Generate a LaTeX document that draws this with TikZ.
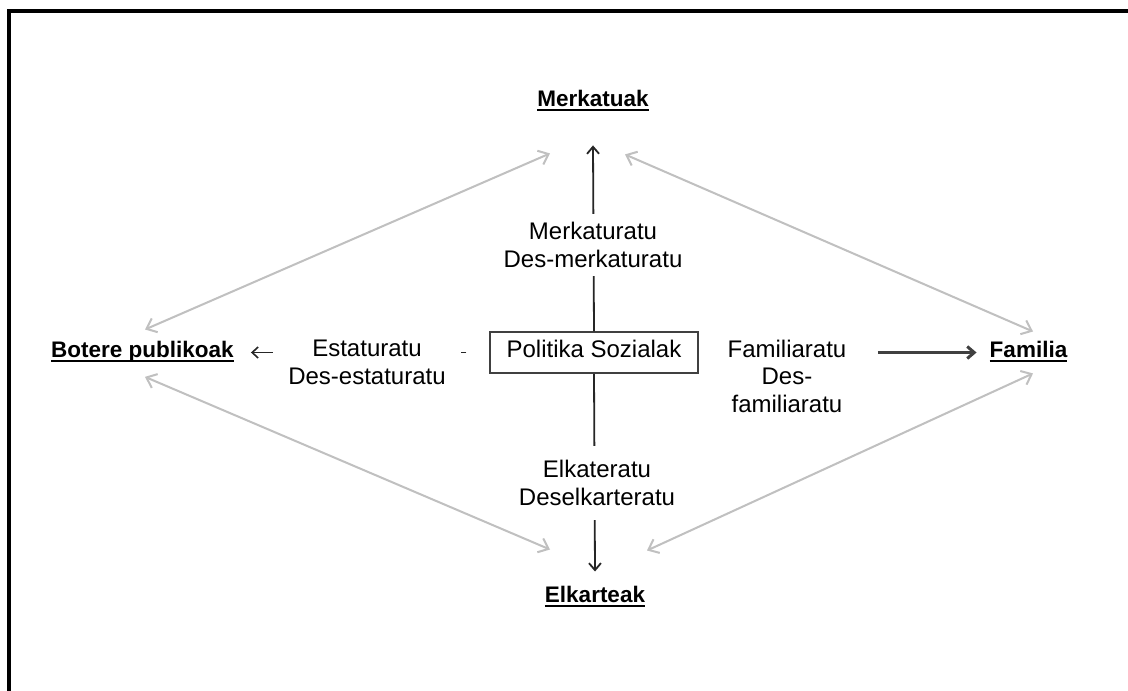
\documentclass[tikz,border=0pt]{standalone}
\usepackage{fontspec}
\setmainfont{Liberation Sans}
\usetikzlibrary{arrows.meta}
\definecolor{lg}{HTML}{C0C0C0}
\definecolor{dk}{HTML}{262626}
\definecolor{dk2}{HTML}{404040}
\begin{document}
\begin{tikzpicture}[x=1pt,y=-1pt,
  lbl/.style={font=\fontsize{22.5}{27}\selectfont\bfseries, inner sep=0pt, anchor=base},
  txt/.style={font=\fontsize{24}{27.5}\selectfont, align=center, fill=white, inner sep=0pt},
  gr/.style={draw=lg, line width=2pt, {Straight Barb[length=9pt,width=15pt]}-{Straight Barb[length=9pt,width=15pt]}},
  bk/.style={draw=dk, line width=1.8pt, -{Straight Barb[length=7pt,width=12pt]}},
  ul/.style={line width=2.5pt, draw=black},
  boxst/.style={draw=dk2, line width=1.5pt, minimum width=208pt, minimum height=41pt,
    inner sep=0pt, text height=17pt, text depth=6.5pt, font=\fontsize{24}{27.5}\selectfont}]
\useasboundingbox (0,0) rectangle (1128,691);
\fill[white] (0,0) rectangle (1128,691);
\draw[line width=4pt] (1128,11) -- (8.5,11) -- (8.5,691);
% end nodes
\node[lbl] (merk) at (593,106) {Merkatuak};
\node[lbl] (bot) at (142.5,357) {Botere publikoak};
\node[lbl] (fam) at (1028.5,357) {Familia};
\node[lbl] (elk) at (595,602) {Elkarteak};
\foreach \n in {merk,bot,fam,elk}
  \draw[ul] ([shift={(0,4)}]\n.base west) -- ([shift={(0,4)}]\n.base east);
% centre box
\node[boxst] (box) at (594,352.5) {Politika Sozialak};
% black arrows
\draw[bk] (box.north) -- ([shift={(0,39)}]merk.south);
\draw[bk, line width=1.6pt, -{Straight Barb[length=6pt,width=11pt]}, shorten <=23pt] (box.west) -- ([xshift=17pt]bot.east |- box.west);
\draw[bk, draw=dk2, line width=3pt, shorten <=179pt] (box.east) -- ([xshift=-13pt]fam.west |- box.east);
\draw[bk] (box.south) -- ([shift={(0,-14)}]elk.north);
% grey double arrows
\draw[gr] ([shift={(2.5,-11)}]bot.north) -- ([shift={(-43,47)}]merk.south);
\draw[gr] ([shift={(32,48)}]merk.south) -- ([shift={(4.5,-9)}]fam.north);
\draw[gr] ([shift={(2.5,15)}]bot.south) -- ([shift={(-45,-36)}]elk.north);
\draw[gr] ([shift={(4.5,16)}]fam.south) -- ([shift={(52,-35)}]elk.north);
% labels on connectors
\node[txt, inner ysep=8pt, inner xsep=4pt] (mlab) at (593,245) {Merkaturatu\\Des-merkaturatu};
\node[txt, inner xsep=15pt, inner ysep=4pt] (elab) at (367,362.5) {Estaturatu\\Des-estaturatu};
\node[txt] (flab) at (787,376) {Familiaratu\\Des-\\familiaratu};
\node[txt, inner ysep=14pt] (klab) at (597,483) {Elkateratu\\Deselkarteratu};
\end{tikzpicture}
\end{document}
